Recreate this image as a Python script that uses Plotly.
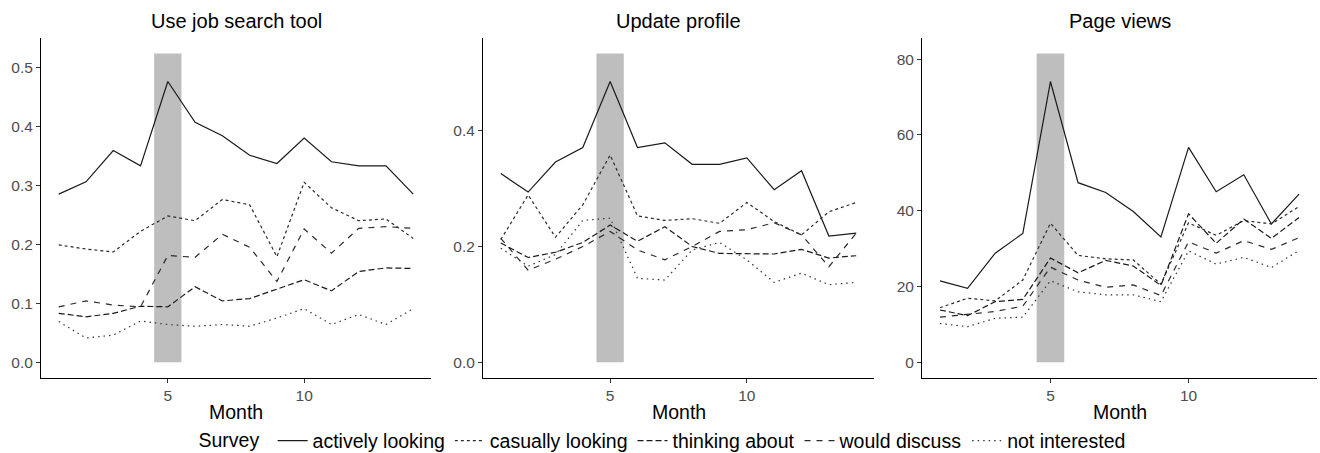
import plotly.graph_objects as go

months = list(range(1, 15))
panels = ["Use job search tool", "Update profile", "Page views"]
series_names = ["actively looking", "casually looking", "thinking about", "would discuss", "not interested"]

# Use job search tool
job_active = [0.285, 0.306, 0.359, 0.333, 0.476, 0.407, 0.384, 0.351, 0.337, 0.380, 0.340, 0.333, 0.333, 0.285]
job_casual = [0.199, 0.192, 0.187, 0.222, 0.248, 0.240, 0.276, 0.267, 0.179, 0.305, 0.262, 0.240, 0.243, 0.210]
job_think = [0.083, 0.077, 0.083, 0.095, 0.094, 0.128, 0.104, 0.108, 0.124, 0.140, 0.121, 0.154, 0.160, 0.159]
job_discuss = [0.094, 0.104, 0.097, 0.094, 0.181, 0.178, 0.217, 0.195, 0.137, 0.226, 0.185, 0.227, 0.230, 0.227]
job_notint = [0.069, 0.041, 0.046, 0.070, 0.064, 0.061, 0.064, 0.061, 0.075, 0.091, 0.064, 0.081, 0.064, 0.091]

# Update profile
upd_active = [0.326, 0.294, 0.346, 0.371, 0.485, 0.371, 0.379, 0.342, 0.342, 0.353, 0.298, 0.331, 0.218, 0.223]
upd_casual = [0.212, 0.289, 0.216, 0.272, 0.358, 0.253, 0.245, 0.248, 0.240, 0.276, 0.243, 0.220, 0.260, 0.276]
upd_think = [0.206, 0.181, 0.190, 0.207, 0.237, 0.209, 0.234, 0.200, 0.188, 0.187, 0.187, 0.195, 0.180, 0.184]
upd_discuss = [0.214, 0.159, 0.178, 0.200, 0.226, 0.194, 0.177, 0.200, 0.226, 0.229, 0.241, 0.220, 0.165, 0.223]
upd_notint = [0.197, 0.166, 0.186, 0.245, 0.249, 0.145, 0.142, 0.194, 0.207, 0.177, 0.138, 0.154, 0.134, 0.138]

# Page views
pv_active = [21.5, 19.5, 28.8, 34.0, 74.1, 47.4, 44.8, 39.8, 33.1, 56.7, 45.0, 49.5, 36.5, 44.4]
pv_casual = [14.4, 16.9, 16.2, 21.7, 36.7, 28.2, 27.3, 27.0, 20.6, 36.8, 33.5, 37.4, 36.5, 41.1]
pv_think = [13.8, 12.3, 16.0, 16.6, 27.5, 23.6, 26.9, 25.4, 20.3, 39.2, 31.4, 37.8, 32.7, 38.2]
pv_discuss = [11.9, 12.6, 13.4, 14.8, 25.1, 21.7, 19.8, 20.4, 17.6, 31.8, 28.8, 32.1, 29.8, 32.9]
pv_notint = [10.2, 9.4, 11.6, 11.9, 21.5, 18.6, 17.8, 17.8, 16.0, 29.4, 25.9, 27.7, 25.0, 29.5]

panel_data = [
    [job_active, job_casual, job_think, job_discuss, job_notint],
    [upd_active, upd_casual, upd_think, upd_discuss, upd_notint],
    [pv_active, pv_casual, pv_think, pv_discuss, pv_notint],
]
y_ticks = [[0.0, 0.1, 0.2, 0.3, 0.4, 0.5], [0.0, 0.2, 0.4], [0, 20, 40, 60, 80]]
y_fmt = [".1f", ".1f", "d"]
x_ticks = [5, 10]
highlight = (4.5, 5.5)

dashes = ["solid", "3px,3px", "6px,3px", "6px,6px", "1.5px,4px"]
colors = ["#1a1a1a", "#2b2b2b", "#1a1a1a", "#2b2b2b", "#333333"]

W, H = 1320, 453
x_doms = [(41, 431), (483, 874), (922, 1317)]
y_bot, y_top = 377.7, 38


def px(v):
    return v / W


def py(v):
    return 1 - v / H


fig = go.Figure()
FONT = "Liberation Sans, Arial, sans-serif"

for p in range(3):
    xa = "x" if p == 0 else f"x{p+1}"
    ya = "y" if p == 0 else f"y{p+1}"
    for s in range(5):
        fig.add_trace(go.Scatter(
            x=months, y=panel_data[p][s], mode="lines", name=series_names[s],
            line=dict(color=colors[s], width=1.2, dash=dashes[s]),
            xaxis=xa, yaxis=ya, showlegend=(p == 0), legendgroup=series_names[s],
            hoverinfo="skip",
        ))
    ymax = max(max(v) for v in panel_data[p])
    rect_top = 1.1 * ymax
    fig.add_shape(type="rect", xref=xa, yref=ya, x0=highlight[0], x1=highlight[1],
                  y0=0, y1=rect_top, fillcolor="#bebebe", line=dict(width=0), layer="below")
    lo = -0.05 * rect_top
    hi = 1.05 * rect_top
    xk = "xaxis" if p == 0 else f"xaxis{p+1}"
    yk = "yaxis" if p == 0 else f"yaxis{p+1}"
    fig.update_layout(**{
        xk: dict(domain=[px(x_doms[p][0]), px(x_doms[p][1])], anchor=ya,
                 range=[0.35, 14.65], tickvals=x_ticks, ticks="outside", ticklen=4,
                 tickcolor="#333333", showline=True, linecolor="#000000", linewidth=1,
                 showgrid=False, zeroline=False, automargin=False,
                 tickfont=dict(family=FONT, size=15.5, color="#4d4d4d")),
        yk: dict(domain=[py(y_bot), py(y_top)], anchor=xa, range=[lo, hi], tickvals=y_ticks[p],
                 tickformat=y_fmt[p], ticks="outside", ticklen=4, tickcolor="#333333",
                 showline=True, linecolor="#000000", linewidth=1, showgrid=False,
                 zeroline=False, automargin=False,
                 tickfont=dict(family=FONT, size=15.5, color="#4d4d4d")),
    })
    cx = px((x_doms[p][0] + x_doms[p][1]) / 2)
    fig.add_annotation(text=panels[p], xref="paper", yref="paper",
                       x=cx, y=py(21), xanchor="center", yanchor="middle", showarrow=False,
                       font=dict(family=FONT, size=20, color="#000000"))
    fig.add_annotation(text="Month", xref="paper", yref="paper",
                       x=cx, y=py(412), xanchor="center", yanchor="middle", showarrow=False,
                       font=dict(family=FONT, size=19.5, color="#000000"))

fig.update_layout(
    width=W, height=H, margin=dict(l=0, r=0, t=0, b=0, autoexpand=False),
    paper_bgcolor="white", plot_bgcolor="white", template="none",
    font=dict(family=FONT),
    legend=dict(orientation="h", xref="container", yref="container",
                x=px(663.5), xanchor="center", y=py(441), yanchor="middle",
                title=dict(text="Survey ", font=dict(family=FONT, size=19.5, color="#000000")),
                font=dict(family=FONT, size=19.5, color="#000000"),
                itemwidth=30, tracegroupgap=0, bgcolor="rgba(0,0,0,0)"),
)

fig.write_html("out.html", config={"displayModeBar": False},
               post_script="document.body.style.margin='0px';document.body.style.overflow='hidden';")
